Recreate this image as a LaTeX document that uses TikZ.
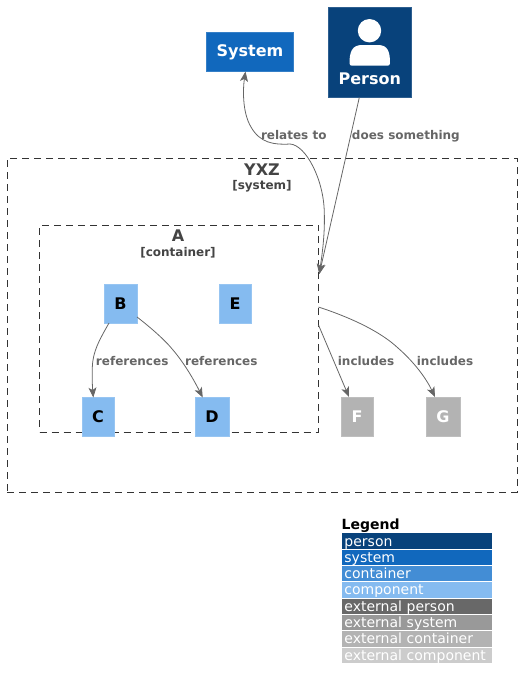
\documentclass[tikz,border=0pt]{standalone}
\usepackage{fontspec}
\setmainfont{DejaVu Sans}
\usetikzlibrary{arrows.meta}
\definecolor{cPerson}{HTML}{08427B}
\definecolor{cSystem}{HTML}{1168BD}
\definecolor{cContainer}{HTML}{438DD5}
\definecolor{cComponent}{HTML}{85BBF0}
\definecolor{cExtPerson}{HTML}{686868}
\definecolor{cExtSystem}{HTML}{999999}
\definecolor{cExtContainer}{HTML}{B3B3B3}
\definecolor{cExtComponent}{HTML}{CCCCCC}
\definecolor{cEdge}{HTML}{666666}
\definecolor{cTitle}{HTML}{444444}
\tikzset{
  boxnode/.style={draw=#1!85!white,fill=#1,line width=0.5pt,inner sep=0pt,anchor=center},
  comp/.style={boxnode=cComponent,font=\fontsize{16}{18}\selectfont\bfseries,text=black},
  extcomp/.style={boxnode=cExtContainer,font=\fontsize{16}{18}\selectfont\bfseries,text=white},
  cluster/.style={draw=black!80,dashed,dash pattern=on 7pt off 5pt,line width=0.7pt,inner sep=0pt,anchor=center},
  bigtitle/.style={text=cTitle,font=\fontsize{16}{18}\selectfont\bfseries,inner sep=0pt},
  subtitle/.style={text=cTitle,font=\fontsize{12}{14}\selectfont\bfseries,inner sep=0pt},
  edgelabel/.style={text=cEdge,font=\fontsize{12}{14}\selectfont\bfseries,inner sep=0pt,text height=9pt,text depth=1pt},
  conn/.style={draw=cEdge,line width=0.8pt,-{Stealth[length=10pt,width=8pt,inset=2.5pt]}},
  legendrow/.style={fill=#1,minimum width=150pt,minimum height=15.3pt,inner sep=0pt,anchor=north west,
    text=white,font=\fontsize{14}{15}\selectfont,text width=145.5pt,align=left,text height=11pt,text depth=1pt},
}
\begin{document}
\begin{tikzpicture}[x=1pt,y=-1pt]
\useasboundingbox (0,0) rectangle (522,689);
% clusters
\node[cluster,minimum width=510pt,minimum height=334pt] (yxz) at (262,325) {};
\node[cluster,minimum width=279pt,minimum height=207pt] (contA) at (179,328.5) {};
\node[bigtitle] (yxzT) at (262,169.5) {YXZ};
\node[subtitle] (yxzS) at (262,186) {[system]};
\node[bigtitle] (contAT) at (178,236) {A};
\node[subtitle] (contAS) at (178,253) {[container]};
% top boxes
\node[boxnode=cSystem,minimum width=87pt,minimum height=39pt] (sys) at (250,51.5) {};
\node[text=white,font=\fontsize{16}{18}\selectfont\bfseries,inner sep=0pt] (sysT) at (250,52.5) {System};
\node[boxnode=cPerson,minimum width=83.5pt,minimum height=90.5pt] (per) at (369.75,52.25) {};
\fill[white] (369.5,30.7) circle (11.7);
\fill[white] (349.5,63) .. controls (349.5,52) and (352,45) .. (362,45) -- (378,45)
  .. controls (388,45) and (390,52) .. (390,63) .. controls (390,65) and (389,65.7) .. (387.5,65.7)
  -- (352,65.7) .. controls (350.5,65.7) and (349.5,65) .. (349.5,63) -- cycle;
\node[text=white,font=\fontsize{16}{18}\selectfont\bfseries,inner sep=0pt] (perT) at (369.75,78.5) {Person};
% components
\node[comp,minimum width=33pt,minimum height=39pt] (B) at (120.5,303.5) {B};
\node[comp,minimum width=32pt,minimum height=39pt] (E) at (235,303.5) {E};
\node[comp,minimum width=32pt,minimum height=39pt] (C) at (98,417) {C};
\node[comp,minimum width=34pt,minimum height=39pt] (D) at (212,417) {D};
\node[extcomp,minimum width=32pt,minimum height=39pt] (F) at (357,417) {F};
\node[extcomp,minimum width=34pt,minimum height=39pt] (G) at (443,417) {G};
% connector ends on the border of container A
\coordinate (aIn) at (319.3,274);
\coordinate (aOutG) at (318.5,307);
\coordinate (aOutF) at (318.5,325);
\coordinate (sysS) at (245.5,71.5);
\coordinate (perS) at (359.3,97.5);
\coordinate (bS) at (109,323);
\coordinate (bE) at (137,317);
\coordinate (cN) at (93.3,397.5);
\coordinate (dN) at (202.7,397.5);
\coordinate (fN) at (349,397);
\coordinate (gN) at (435,397);
% connectors
\draw[conn,{Stealth[length=10pt,width=8pt,inset=2.5pt]}-{Stealth[length=10pt,width=8pt,inset=2.5pt]}]
  (sysS) .. controls (243,88) and (242,112) .. (251,127)
  .. controls (260,143) and (274,145) .. (290,144)
  .. controls (306,145) and (324,180) .. (324.3,213)
  .. controls (325,235) and (322,255) .. (aIn);
\draw[conn] (perS) -- (aIn);
\draw[conn] (aOutG) .. controls (355,319) and (382,333) .. (398,348) .. controls (414,362) and (426,378) .. (gN);
\draw[conn] (aOutF) -- (fN);
\draw[conn] (bS) .. controls (100,339) and (92,352) .. (92.3,370) .. controls (92,380) and (92.5,388) .. (cN);
\draw[conn] (bE) .. controls (150,327) and (165,340) .. (173,350) .. controls (185,364) and (195,382) .. (dN);
% edge labels
\node[edgelabel] (l1) at (293.8,135) {relates to};
\node[edgelabel] (l2) at (405.9,135) {does something};
\node[edgelabel] (l3) at (132.2,361) {references};
\node[edgelabel] (l4) at (221.3,361) {references};
\node[edgelabel] (l5) at (366,361) {includes};
\node[edgelabel] (l6) at (445,361) {includes};
% legend
\node[anchor=west,inner sep=0pt,font=\fontsize{14}{15}\selectfont\bfseries,text=black] (legT) at (341.5,525.5) {Legend};
\node[legendrow=cPerson] (r1) at (342,533.2) {person};
\node[legendrow=cSystem] (r2) at (342,549.6) {system};
\node[legendrow=cContainer] (r3) at (342,565.8) {container};
\node[legendrow=cComponent] (r4) at (342,582) {component};
\node[legendrow=cExtPerson] (r5) at (342,598.6) {external person};
\node[legendrow=cExtSystem] (r6) at (342,614.8) {external system};
\node[legendrow=cExtContainer] (r7) at (342,631) {external container};
\node[legendrow=cExtComponent] (r8) at (342,647.4) {external component};
\end{tikzpicture}
\end{document}
